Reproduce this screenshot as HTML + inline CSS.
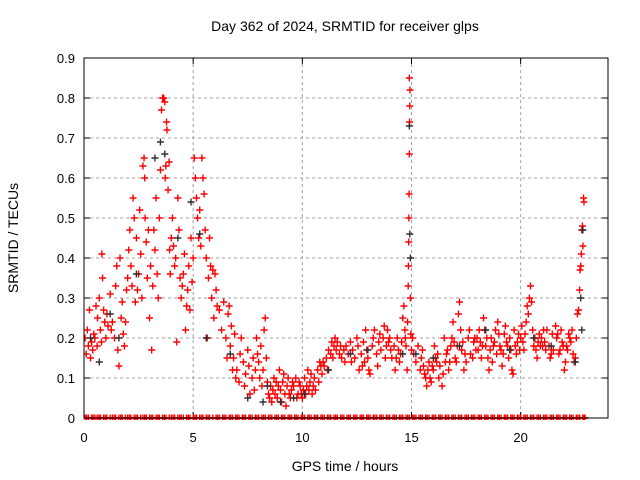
<!DOCTYPE html>
<html><head><meta charset="utf-8"><style>
html,body{margin:0;padding:0;background:#fff;}
svg{display:block;font-family:"Liberation Sans",sans-serif;}
</style></head><body>
<svg id="chart" width="640" height="480" viewBox="0 0 640 480" xmlns="http://www.w3.org/2000/svg">
<rect width="640" height="480" fill="#fff"/>
<text x="345" y="31" font-size="14" text-anchor="middle" fill="#000">Day 362 of 2024, SRMTID for receiver glps</text>
<text transform="translate(18,238) rotate(-90)" font-size="14" text-anchor="middle" fill="#000">SRMTID / TECUs</text>
<text x="345" y="471" font-size="14" text-anchor="middle" fill="#000">GPS time / hours</text>
<defs><clipPath id="plotclip"><rect x="84" y="58" width="524" height="362"/></clipPath></defs>
<g id="grid"></g>
<g id="ticks"></g>
<g id="marks" clip-path="url(#plotclip)"></g>
<rect x="84" y="58" width="524" height="360" fill="none" stroke="#000" stroke-width="1"/>
</svg>
<script>
const xTicks = [0, 5, 10, 15, 20];
const yTicks = [0, 0.1, 0.2, 0.3, 0.4, 0.5, 0.6, 0.7, 0.8, 0.9];
const yTickLabels = ["0","0.1","0.2","0.3","0.4","0.5","0.6","0.7","0.8","0.9"];
const redPoints = [
[0.05,.2],[0.1,.16],[0.15,.22],[0.2,.18],[0.25,.27],[0.3,.15],[0.35,.19],[0.4,.17],[0.45,.21],[0.5,.2],[0.55,.28],[0.6,.18],[0.62,.25],[0.7,.3],[0.75,.22],[0.8,.19],[0.82,.41],[0.85,.35],[0.9,.27],[0.95,.24],[1.0,.2],
[1.05,.26],[1.1,.23],[1.2,.31],[1.25,.22],[1.3,.24],[1.4,.2],[1.45,.33],[1.5,.38],[1.55,.17],[1.6,.13],[1.65,.4],[1.7,.25],[1.75,.29],[1.8,.21],[1.85,.18],[1.9,.24],[1.95,.32],
[2.0,.35],[2.05,.42],[2.1,.47],[2.15,.38],[2.2,.33],[2.25,.55],[2.3,.5],[2.35,.29],[2.4,.45],[2.45,.32],[2.5,.36],[2.55,.52],[2.6,.41],[2.65,.3],[2.7,.63],[2.75,.65],[2.78,.6],[2.8,.5],[2.85,.44],[2.9,.35],[2.95,.47],
[3.0,.25],[3.05,.38],[3.1,.17],[3.15,.33],[3.2,.47],[3.25,.42],[3.3,.55],[3.35,.36],[3.4,.3],[3.45,.5],[3.5,.62],[3.55,.77],[3.6,.8],[3.65,.8],[3.7,.79],[3.72,.6],[3.75,.63],[3.78,.74],[3.8,.72],[3.85,.57],[3.9,.64],[3.92,.42],[3.95,.36],[4.0,.45],
[4.05,.5],[4.1,.43],[4.15,.38],[4.2,.4],[4.25,.19],[4.3,.55],[4.35,.47],[4.4,.35],[4.45,.3],[4.5,.33],[4.55,.36],[4.6,.41],[4.65,.22],[4.7,.28],[4.75,.32],[4.8,.38],[4.85,.27],[4.9,.45],[4.95,.34],[5.0,.4],
[5.05,.65],[5.1,.6],[5.15,.55],[5.2,.5],[5.25,.45],[5.3,.52],[5.35,.43],[5.4,.65],[5.45,.6],[5.5,.56],[5.55,.47],[5.6,.4],[5.65,.2],[5.7,.35],[5.75,.45],[5.8,.38],[5.85,.3],[5.9,.37],[5.95,.25],[6.0,.36],
[6.05,.32],[6.1,.28],[6.2,.27],[6.3,.22],[6.4,.29],[6.5,.2],[6.55,.15],[6.6,.26],[6.65,.28],[6.7,.18],[6.75,.23],[6.8,.12],[6.85,.15],[6.9,.21],[6.95,.1],
[7.0,.12],[7.1,.09],[7.15,.16],[7.2,.2],[7.3,.14],[7.35,.08],[7.4,.11],[7.5,.17],[7.55,.13],[7.6,.06],[7.7,.1],[7.75,.15],[7.8,.07],[7.85,.12],[7.9,.2],[7.95,.16],
[8.0,.14],[8.05,.1],[8.1,.18],[8.15,.08],[8.2,.12],[8.25,.22],[8.3,.25],[8.35,.15],[8.4,.09],[8.45,.06],[8.5,.05],[8.55,.08],[8.6,.04],[8.65,.07],[8.7,.1],[8.75,.06],[8.8,.09],[8.85,.05],[8.9,.08],[8.95,.12],
[9.0,.07],[9.05,.04],[9.1,.09],[9.15,.11],[9.2,.06],[9.25,.03],[9.3,.08],[9.35,.1],[9.4,.06],[9.45,.05],[9.5,.07],[9.55,.09],[9.6,.08],[9.7,.1],[9.75,.05],[9.8,.06],[9.85,.09],[9.9,.08],[9.95,.06],
[10.0,.05],[10.05,.07],[10.1,.1],[10.15,.06],[10.2,.08],[10.25,.12],[10.3,.07],[10.35,.09],[10.4,.11],[10.45,.06],[10.5,.08],[10.55,.1],[10.6,.07],[10.7,.12],[10.75,.09],[10.8,.14],[10.85,.13],[10.9,.11],[10.95,.14],
[11.0,.13],[11.1,.15],[11.15,.12],[11.2,.17],[11.3,.16],[11.35,.19],[11.4,.15],[11.45,.18],[11.5,.2],[11.55,.17],[11.6,.19],[11.7,.16],[11.75,.18],[11.8,.15],[11.9,.17],[11.95,.14],
[12.0,.18],[12.1,.16],[12.2,.19],[12.25,.14],[12.3,.17],[12.4,.15],[12.5,.2],[12.55,.18],[12.6,.12],[12.7,.16],[12.75,.13],[12.8,.19],[12.85,.14],[12.9,.22],[12.95,.17],
[13.0,.15],[13.05,.12],[13.1,.11],[13.2,.18],[13.25,.2],[13.3,.22],[13.4,.16],[13.45,.13],[13.5,.19],[13.55,.21],[13.6,.17],[13.7,.2],[13.75,.23],[13.8,.15],[13.85,.18],[13.9,.22],[13.95,.19],
[14.0,.2],[14.05,.17],[14.1,.15],[14.2,.18],[14.25,.12],[14.3,.15],[14.35,.2],[14.4,.17],[14.45,.14],[14.5,.16],[14.55,.19],[14.6,.25],[14.65,.28],[14.7,.22],[14.72,.2],[14.75,.18],[14.8,.12],[14.82,.24],[14.85,.33],[14.86,.38],[14.87,.44],[14.88,.5],[14.89,.56],[14.9,.66],[14.91,.74],[14.92,.78],[14.93,.82],[14.9,.85],[14.95,.3],[14.97,.21],[15.0,.17],
[15.05,.2],[15.1,.16],[15.2,.14],[15.3,.18],[15.4,.12],[15.45,.15],[15.5,.17],[15.55,.13],[15.6,.11],[15.65,.1],[15.7,.08],[15.75,.12],[15.8,.14],[15.85,.1],[15.9,.09],[15.95,.13],
[16.0,.12],[16.05,.18],[16.1,.15],[16.15,.14],[16.2,.16],[16.25,.1],[16.3,.13],[16.4,.08],[16.45,.11],[16.5,.2],[16.55,.14],[16.6,.16],[16.65,.17],[16.7,.12],[16.75,.14],[16.8,.18],[16.85,.2],[16.9,.24],[16.95,.19],
[17.0,.15],[17.05,.14],[17.1,.18],[17.15,.26],[17.2,.29],[17.25,.22],[17.3,.17],[17.35,.19],[17.4,.12],[17.45,.16],[17.5,.14],[17.6,.2],[17.65,.22],[17.7,.16],[17.8,.15],[17.85,.19],[17.9,.2],[17.95,.17],
[18.0,.2],[18.05,.17],[18.1,.22],[18.15,.19],[18.2,.15],[18.25,.18],[18.3,.25],[18.35,.22],[18.4,.18],[18.45,.2],[18.5,.15],[18.55,.12],[18.6,.17],[18.65,.2],[18.7,.14],[18.75,.18],[18.8,.19],[18.85,.22],[18.9,.16],[18.95,.24],
[19.0,.21],[19.05,.18],[19.1,.17],[19.15,.13],[19.2,.16],[19.25,.21],[19.3,.23],[19.35,.19],[19.4,.18],[19.45,.15],[19.5,.2],[19.55,.17],[19.6,.12],[19.65,.11],[19.7,.22],[19.75,.18],[19.8,.16],[19.85,.19],[19.9,.21],[19.95,.17],
[20.0,.2],[20.05,.23],[20.1,.19],[20.15,.17],[20.2,.21],[20.25,.24],[20.3,.28],[20.35,.26],[20.4,.3],[20.45,.33],[20.5,.29],[20.55,.22],[20.6,.18],[20.65,.2],[20.7,.17],[20.75,.15],[20.8,.19],[20.85,.21],[20.9,.18],[20.95,.2],
[21.0,.18],[21.05,.22],[21.1,.19],[21.15,.17],[21.2,.22],[21.3,.18],[21.35,.15],[21.4,.16],[21.45,.21],[21.5,.17],[21.6,.23],[21.65,.2],[21.7,.21],[21.75,.16],[21.8,.17],[21.85,.22],[21.9,.19],[21.95,.18],
[22.0,.12],[22.05,.14],[22.1,.18],[22.15,.17],[22.2,.21],[22.25,.2],[22.3,.19],[22.35,.22],[22.4,.16],[22.45,.14],[22.5,.15],[22.55,.2],[22.6,.26],[22.65,.27],[22.7,.32],[22.72,.37],[22.75,.38],[22.78,.41],[22.8,.47],[22.83,.48],[22.85,.43],[22.88,.55],[22.9,.54]
];
const blackPoints = [
[0.3,.2],[0.7,.14],[1.2,.26],[1.6,.2],[2.4,.36],[3.25,.65],[3.5,.69],[3.7,.66],[4.3,.45],[4.9,.54],[5.3,.46],[5.6,.2],[6.7,.16],[7.5,.05],[8.2,.04],[8.4,.08],[9.0,.04],[9.6,.05],[10.1,.06],[11.2,.12],[12.2,.16],[13.0,.17],[14.6,.16],[14.9,.73],[14.92,.46],[14.95,.4],[15.2,.16],[16.0,.15],[17.2,.18],[18.4,.22],[19.5,.17],[20.6,.2],[21.4,.18],[22.5,.14],[22.75,.3],[22.8,.22],[22.85,.47]
];
const zeroTimes = [0.05,0.2,0.35,0.5,0.6,0.75,0.9,1.05,1.2,1.3,1.45,1.6,1.75,1.9,2.0,2.15,2.3,2.45,2.6,2.7,2.85,3.0,3.15,3.3,3.45,3.6,3.75,3.9,4.0,4.15,4.3,4.45,4.55,4.7,4.85,5.0,5.15,5.3,5.45,5.6,5.75,5.9,6.05,6.2,6.35,6.5,6.65,6.8,6.95,7.1,7.25,7.4,7.55,7.7,7.85,8.0,8.15,8.3,8.45,8.6,8.75,8.9,9.05,9.2,9.35,9.5,9.65,9.8,9.95,10.1,10.25,10.4,10.55,10.7,10.85,11.0,11.15,11.3,11.45,11.6,11.75,11.9,12.05,12.2,12.35,12.5,12.65,12.8,12.95,13.1,13.25,13.4,13.55,13.7,13.85,14.0,14.15,14.3,14.45,14.6,14.75,14.9,15.05,15.2,15.35,15.5,15.65,15.8,15.95,16.1,16.25,16.4,16.55,16.7,16.85,17.0,17.15,17.3,17.45,17.6,17.75,17.9,18.05,18.2,18.35,18.5,18.65,18.8,18.95,19.1,19.25,19.4,19.55,19.7,19.85,20.0,20.15,20.3,20.45,20.6,20.75,20.9,21.05,21.2,21.35,21.5,21.65,21.8,21.95,22.1,22.25,22.4,22.55,22.7,22.85,22.95];
const zeroTimesExtra = [0.12,0.42,0.68,0.98,1.38,1.68,2.08,2.38,2.78,3.08,3.38,3.68,4.08,4.38,4.78,5.08,5.38,5.68,6.12,6.42,6.72,7.02,7.32,7.62,7.92,8.22,8.52,8.82,9.12,9.42,9.72,10.02,10.32,10.62,10.92,11.22,11.52,11.82,12.12,12.42,12.72,13.02,13.32,13.62,13.92,14.22,14.52,14.82,15.12,15.42,15.72,16.02,16.32,16.62,16.92,17.22,17.52,17.82,18.12,18.42,18.72,19.02,19.32,19.62,19.92,20.22,20.52,20.82,21.12,21.42,21.72,22.02,22.32,22.62,22.9];

const X0 = 84, X1 = 608, Y0 = 418, Y1 = 58, XMAX = 24, YMAX = 0.9;
function xs(t){ return X0 + t * (X1 - X0) / XMAX; }
function ys(v){ return Y0 - v * (Y0 - Y1) / YMAX; }
const NS = "http://www.w3.org/2000/svg";
const grid = document.getElementById('grid');
const ticks = document.getElementById('ticks');
const marks = document.getElementById('marks');

yTicks.forEach((v, i) => {
  const y = ys(v);
  if (v > 0 && v < YMAX) {
    const g = document.createElementNS(NS, 'line');
    
    
    g.setAttribute('x1', X0); g.setAttribute('x2', X1); g.setAttribute('y1', y); g.setAttribute('y2', y);
    g.setAttribute('stroke', '#a0a0a0'); g.setAttribute('stroke-dasharray', '3,3');
    grid.appendChild(g);
  }
  const tk = document.createElementNS(NS, 'path');
  
  
  tk.setAttribute('d', `M${X0} ${y}h6M${X1} ${y}h-6`);
  tk.setAttribute('stroke', '#000');
  ticks.appendChild(tk);
  const lb = document.createElementNS(NS, 'text');
  
  
  lb.setAttribute('x', X0 - 9); lb.setAttribute('y', y + 5);
  lb.setAttribute('text-anchor', 'end'); lb.setAttribute('font-size', '13');
  lb.textContent = yTickLabels[i];
  ticks.appendChild(lb);
});
xTicks.forEach(t => {
  const x = xs(t);
  if (t > 0) {
    const g = document.createElementNS(NS, 'line');
    
    
    g.setAttribute('x1', x); g.setAttribute('x2', x); g.setAttribute('y1', Y1); g.setAttribute('y2', Y0);
    g.setAttribute('stroke', '#a0a0a0'); g.setAttribute('stroke-dasharray', '3,3');
    grid.appendChild(g);
  }
  const tk = document.createElementNS(NS, 'path');
  
  
  tk.setAttribute('d', `M${x} ${Y0}v-6M${x} ${Y1}v6`);
  tk.setAttribute('stroke', '#000');
  ticks.appendChild(tk);
  const lb = document.createElementNS(NS, 'text');
  
  
  lb.setAttribute('x', x); lb.setAttribute('y', Y0 + 24);
  lb.setAttribute('text-anchor', 'middle'); lb.setAttribute('font-size', '13');
  lb.textContent = String(t);
  ticks.appendChild(lb);
});

function plus(t, v, color, name){
  const x = xs(t), y = ys(v);
  const p = document.createElementNS(NS, 'path');
  
  
  p.setAttribute('d', `M${x-3.5} ${y}h7M${x} ${y-3.5}v7`);
  p.setAttribute('stroke', color);
  p.setAttribute('stroke-width', '1.4');
  marks.appendChild(p);
}
zeroTimes.forEach(t => plus(t, 0, '#ff0000', 'zero-point'));
zeroTimesExtra.forEach(t => plus(t, 0, '#ff0000', 'zero-point'));
redPoints.forEach(d => plus(d[0], d[1], '#ff0000', 'srmtid-point'));
blackPoints.forEach(d => plus(d[0], d[1], '#303030', 'srmtid-point-alt'));
</script>
</body></html>
